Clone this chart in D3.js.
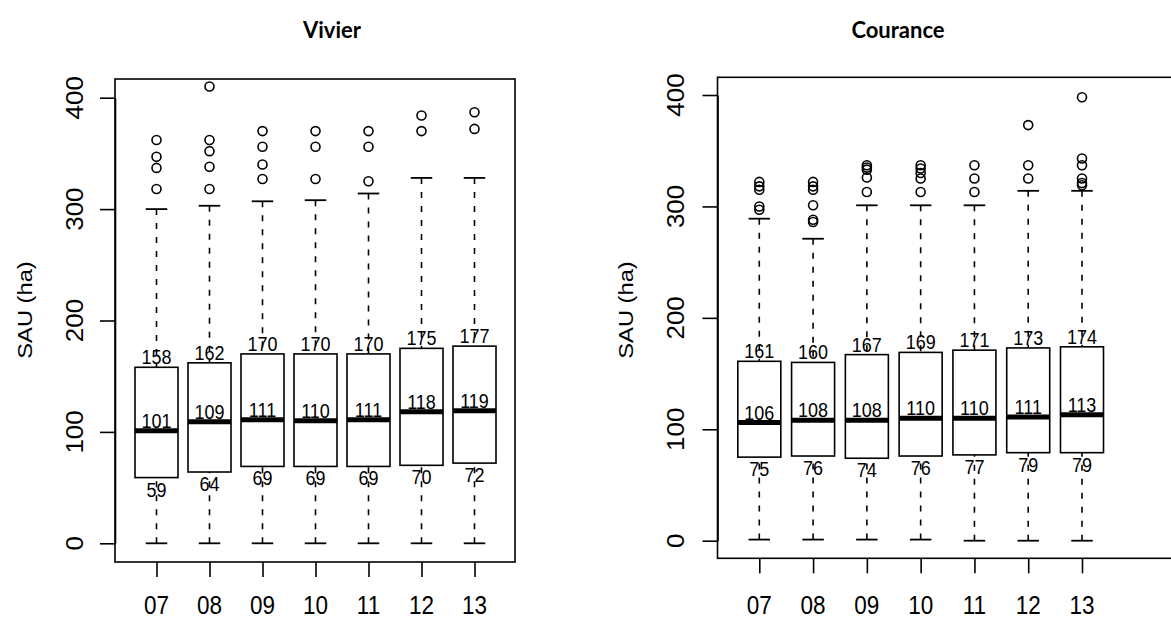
<!DOCTYPE html>
<html><head><meta charset="utf-8">
<script src="https://cdn.jsdelivr.net/npm/d3@7"></script>
<style>
html,body{margin:0;padding:0;background:#fff;}
svg{display:block;}
</style></head>
<body>
<svg id="chart" width="1171" height="618"></svg>
<script>
// ---- data ----
const years = ["07","08","09","10","11","12","13"];
const yTicks = [0,100,200,300,400];

const vivierQ1   = [59,64,69,69,69,70,72];
const vivierMed  = [101,109,111,110,111,118,119];
const vivierQ3   = [158,162,170,170,170,175,177];
const vivierLow  = [0,0,0,0,0,0,0];
const vivierHigh = [300,303,307,308,314,328,328];
const vivierOut  = [[362,347,337,318],[410,362,352,338,318],[370,356,340,327],[370,356,327],[370,356,325],[384,370],[387,372]];

const couranceQ1   = [75,76,74,76,77,79,79];
const couranceMed  = [106,108,108,110,110,111,113];
const couranceQ3   = [161,160,167,169,171,173,174];
const couranceLow  = [1,1,1,1,0,0,0];
const couranceHigh = [289,271,301,301,301,314,314];
const couranceOut  = [[322,318,315,300,297],[322,318,315,301,288,286],[337,335,333,326,313],[337,334,330,325,313],[337,325,313],[373,337,325],[398,343,337,325,321,319]];

const panels = [
  {title:"Vivier", titleX:332, q1:vivierQ1, med:vivierMed, q3:vivierQ3, lo:vivierLow, hi:vivierHigh, out:vivierOut,
   frame:{x0:115,x1:515,y0:79,y1:562}, yRange:[543.3,97.7], xRange:[156.5,474.5], labelX:83, ylabX:32},
  {title:"Courance", titleX:898, q1:couranceQ1, med:couranceMed, q3:couranceQ3, lo:couranceLow, hi:couranceHigh, out:couranceOut,
   frame:{x0:717.5,x1:1185,y0:77.3,y1:558.3}, yRange:[540.7,95], xRange:[759.3,1082], labelX:684, ylabX:633}
];

const svg = d3.select("#chart");
const RF = "'Liberation Sans', Arial, Helvetica, sans-serif";
const SY = 1.13; // vertical stretch of the original raster text
const boxHalf = 21.5, capHalf = 10.75;

function stretchText(g, x, y, txt, size, anchor, rot){
  const gg = g.append("g").attr("transform", `translate(${x},${y}) scale(1,${SY})`);
  gg.append("text").attr("transform", rot ? `rotate(${rot})` : null)
    .attr("text-anchor", anchor).attr("font-family", RF).attr("font-size", size)
    .attr("fill", "#000").text(txt);
}

panels.forEach(p => {
  const g = svg.append("g");
  const y = d3.scaleLinear().domain([0,400]).range(p.yRange);
  const x = d3.scalePoint().domain(years).range(p.xRange);

  // title
  g.append("text").attr("x", p.titleX).attr("y", 38).attr("text-anchor","middle")
    .attr("font-family","Lato, 'Open Sans', sans-serif").attr("font-weight","bold")
    .attr("font-size",22).attr("fill","#000").text(p.title);

  // frame
  g.append("rect").attr("x",p.frame.x0).attr("y",p.frame.y0)
    .attr("width",p.frame.x1-p.frame.x0).attr("height",p.frame.y1-p.frame.y0)
    .attr("fill","none").attr("stroke","#000").attr("stroke-width",1.6);

  // y axis
  const ya = g.append("g").attr("transform",`translate(${p.frame.x0},0)`)
    .call(d3.axisLeft(y).tickValues(yTicks).tickSize(15).tickSizeOuter(0).tickFormat(""));
  ya.selectAll("path,line").attr("stroke","#000").attr("stroke-width",1.6);
  yTicks.forEach(t => stretchText(g, p.labelX, y(t), String(t), 23, "middle", -90));

  // x axis
  const xa = g.append("g").attr("transform",`translate(0,${p.frame.y1})`)
    .call(d3.axisBottom(x).tickSize(15).tickSizeOuter(0).tickFormat(""));
  xa.select("path").remove();
  xa.selectAll("line").attr("stroke","#000").attr("stroke-width",1.6);
  years.forEach(yr => stretchText(g, x(yr), 614, yr, 22.5, "middle", 0));

  // y label
  stretchText(g, p.ylabX, 310, "SAU (ha)", 21, "middle", -90);

  // boxes
  years.forEach((yr,i) => {
    const cx = x(yr);
    // whiskers
    [[p.hi[i], p.q3[i]], [p.lo[i], p.q1[i]]].forEach(([a,b]) => {
      g.append("line").attr("x1",cx).attr("x2",cx).attr("y1",y(a)).attr("y2",y(b))
        .attr("stroke","#000").attr("stroke-width",1.6).attr("stroke-dasharray","6,8");
      g.append("line").attr("x1",cx-capHalf).attr("x2",cx+capHalf).attr("y1",y(a)).attr("y2",y(a))
        .attr("stroke","#000").attr("stroke-width",1.8);
    });
    // box
    g.append("rect").attr("x",cx-boxHalf).attr("width",boxHalf*2)
      .attr("y",y(p.q3[i])).attr("height",y(p.q1[i])-y(p.q3[i]))
      .attr("fill","#fff").attr("stroke","#000").attr("stroke-width",1.6);
    // median
    g.append("line").attr("x1",cx-boxHalf).attr("x2",cx+boxHalf).attr("y1",y(p.med[i])).attr("y2",y(p.med[i]))
      .attr("stroke","#000").attr("stroke-width",5);
    // outliers
    p.out[i].forEach(v => {
      g.append("circle").attr("cx",cx).attr("cy",y(v)).attr("r",4.5)
        .attr("fill","none").attr("stroke","#000").attr("stroke-width",1.6);
    });
    // value labels
    stretchText(g, cx, y(p.q3[i]) - 3, String(p.q3[i]), 18, "middle", 0);
    stretchText(g, cx, y(p.med[i]) - 3, String(p.med[i]), 18, "middle", 0);
    stretchText(g, cx, y(p.q1[i]) + 19, String(p.q1[i]), 18, "middle", 0);
  });
});
</script>
</body></html>
